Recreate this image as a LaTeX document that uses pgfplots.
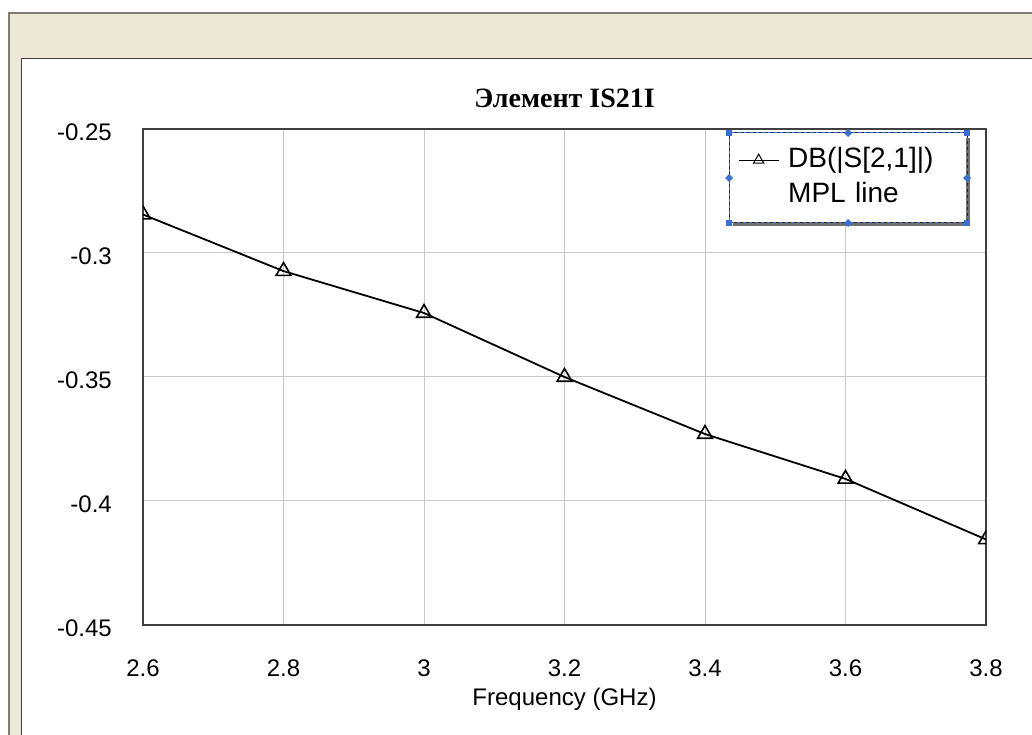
\documentclass[border=0pt]{standalone}
\usepackage{fontspec}
\setmainfont{Liberation Sans}
\newfontfamily\titlefont{Liberation Serif}
\usepackage{pgfplots}
\pgfplotsset{compat=1.18}
\definecolor{beige}{HTML}{ECE9D8}
\definecolor{framegray}{HTML}{7F7D72}
\definecolor{selblue}{HTML}{3C6FD6}
\definecolor{gridgray}{HTML}{C8C8C8}
\definecolor{shadowgray}{HTML}{707070}
\begin{document}
\begin{tikzpicture}
\useasboundingbox (0,0) rectangle (1032pt,735pt);
\fill[white] (0,0) rectangle (1032pt,735pt);
\fill[beige] (9pt,0) rectangle (1032pt,722pt);
\draw[framegray, line width=2pt] (9pt,0) -- (9pt,722pt) -- (1032pt,722pt);
\fill[white] (21pt,0) rectangle (1032pt,677pt);
\draw[black!75, line width=1.8pt] (21.5pt,0) -- (21.5pt,676.5pt) -- (1032pt,676.5pt);
\begin{axis}[
  at={(143pt,110pt)}, anchor=south west,
  width=843pt, height=496pt, scale only axis,
  xmin=2.6, xmax=3.8, ymin=-0.45, ymax=-0.25,
  xtick={2.6,2.8,3,3.2,3.4,3.6,3.8},
  ytick={-0.45,-0.4,-0.35,-0.3,-0.25},
  grid=major,
  major grid style={gridgray, line width=1pt},
  major tick length=0pt,
  axis line style={black!75, line width=1.8pt},
  /pgf/number format/assume math mode=true,
  tick label style={font=\fontsize{24}{27}\selectfont},
  yticklabel style={inner sep=0pt, anchor=east, xshift=-31pt, yshift=-3pt},
  xticklabel style={inner sep=0pt, anchor=north, yshift=-35pt},
  xlabel={Frequency (GHz)},
  xlabel style={at={(axis description cs:0.5,0)}, anchor=base, yshift=-81pt, inner sep=0pt, font=\fontsize{24}{27}\selectfont},
  title={Элемент IS21I},
  title style={at={(axis description cs:0.5,1)}, anchor=base, yshift=15pt, inner sep=0pt, font=\titlefont\bfseries\fontsize{28}{32}\selectfont},
  clip marker paths=true,
  legend cell align=left,
  legend style={at={(axis description cs:0.6951,0.99194)}, anchor=north west,
    draw=none, fill=white, inner xsep=9pt, inner ysep=14pt,
    column sep=9pt, row sep=9pt,
    font=\fontsize{28}{32}\selectfont,
    cells={anchor=west},
    nodes={inner sep=0pt, text height=20pt, text depth=6pt, text width=171pt}},
  legend image code/.code={\draw[mark repeat=2, mark phase=2, #1, solid, line width=1pt, mark size=6pt, mark options={solid, fill=none, line width=1pt}] plot coordinates {(0pt,0pt)(20pt,0pt)(40pt,0pt)};},
]
\addplot[black, line width=1.8pt, mark=triangle, mark size=8.5pt, mark options={solid, fill=none, line width=1.6pt}]
  coordinates {(2.6,-0.2845)(2.8,-0.3073)(3.0,-0.3242)(3.2,-0.3500)(3.4,-0.3730)(3.6,-0.3911)(3.8,-0.4155)};
\addlegendentry{DB(|S[2,1]|)}
\addlegendimage{empty legend}
\addlegendentry{MPL line}
\end{axis}
% selection decoration of the legend box
\fill[shadowgray] (966pt,513pt) rectangle (970pt,597pt);
\fill[shadowgray] (733pt,509pt) rectangle (970pt,513pt);
\draw[selblue, line width=1pt] (729pt,512pt) rectangle (967pt,602pt);
\draw[black!85, line width=1pt, dash pattern=on 3pt off 3pt] (729pt,512pt) rectangle (967pt,602pt);
\foreach \p in {(729pt,602pt),(967pt,602pt),(729pt,512pt),(967pt,512pt)}
  \fill[selblue] \p ++(-3pt,-3pt) rectangle ++(6pt,6pt);
\foreach \p in {(848pt,602pt),(848pt,512pt),(729pt,557pt),(967pt,557pt)}
  \fill[selblue] \p ++(-4pt,0) -- ++(4pt,4pt) -- ++(4pt,-4pt) -- ++(-4pt,-4pt) -- cycle;
\end{tikzpicture}
\end{document}
